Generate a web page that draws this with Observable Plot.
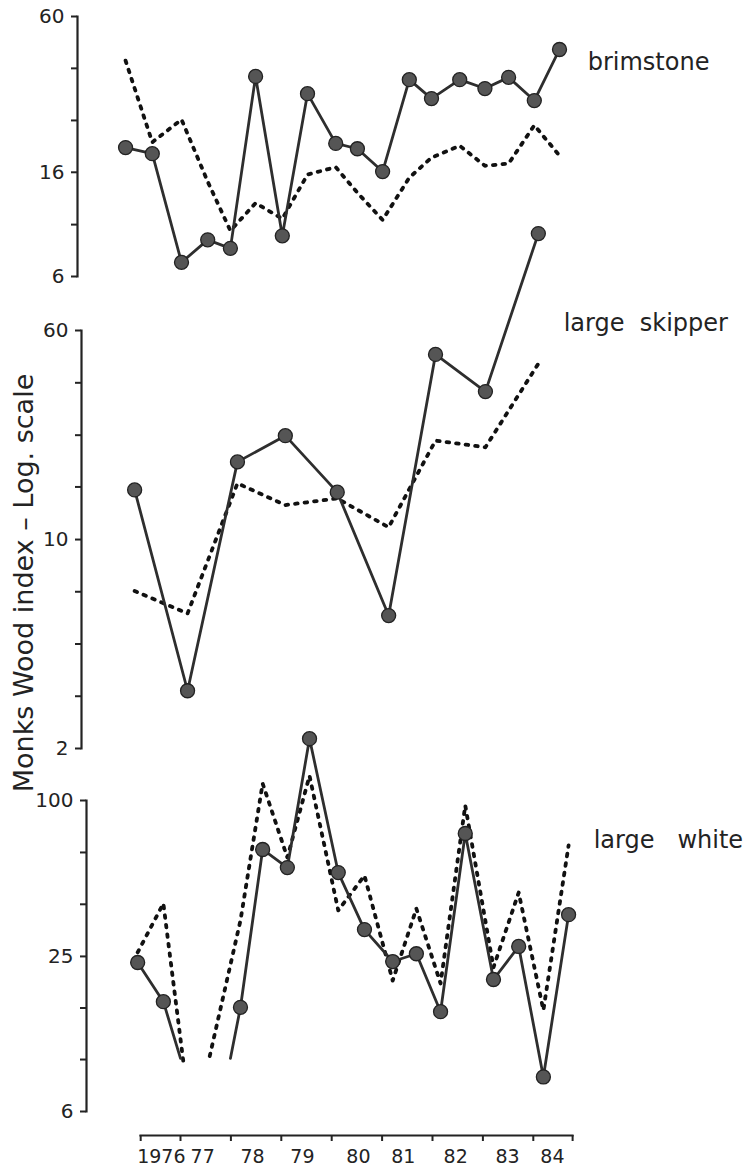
<!DOCTYPE html>
<html>
<head>
<meta charset="utf-8">
<script src="https://cdn.jsdelivr.net/npm/d3@7"></script>
<script src="https://cdn.jsdelivr.net/npm/@observablehq/plot@0.6"></script>
<style>
  html, body { margin: 0; padding: 0; background: #fff; }
  #chart { position: relative; width: 755px; height: 1170px; }
  #chart svg { position: absolute; left: 0; top: 0; overflow: visible; }
</style>
</head>
<body>
<div id="chart"></div>
<script>
// ---------------- data ----------------
// brimstone: two points per year (spring / summer)
const brimTimes  = [1975.91, 1976.44, 1977.02, 1977.54, 1977.99, 1978.49, 1979.02, 1979.52, 1980.08,
                    1980.51, 1981.01, 1981.54, 1981.98, 1982.54, 1983.04, 1983.51, 1984.02, 1984.52];
const brimSolid  = [18.8, 17.8, 6.8, 8.3, 7.7, 35.3, 8.6, 30.3, 19.5, 18.6, 15.2, 34.3, 29.0, 34.3, 31.7, 35.0, 28.5, 44.8];
const brimDashed = [40.6, 19.7, 24.1, 13.9, 9.0, 11.5, 10.0, 14.8, 15.8, 12.6, 9.9, 14.4, 17.2, 19.1, 16.0, 16.3, 22.9, 17.5];
const brimTicks  = [6, 9.5, 15.1, 23.9, 37.9, 60];
const brimTickLabels = ["6", "", "16", "", "", "60"];

// large skipper: one point per year
const skipTimes  = [1976.09, 1977.14, 1978.13, 1979.08, 1980.11, 1981.13, 1982.06, 1983.05, 1984.10];
const skipSolid  = [16.4, 3.2, 20.6, 25.5, 16.1, 5.9, 49.4, 36.5, 132];
const skipDashed = [7.2, 6.0, 17.3, 14.5, 15.3, 12.1, 24.5, 23.2, 45.8];
const skipTicks  = [2, 3.06, 4.68, 7.16, 10.95, 16.8, 25.6, 39.2, 60];
const skipTickLabels = ["2", "", "", "", "10", "", "", "", "60"];

// large white: two broods per year, 1977 missing
const whiteTimes  = [1976.15, 1976.66, 1978.19, 1978.63, 1979.12, 1979.56, 1980.13, 1980.65,
                     1981.21, 1981.68, 1982.16, 1982.65, 1983.21, 1983.71, 1984.20, 1984.70];
const whiteSolid  = [23.1, 16.2, 15.4, 64.2, 54.5, 175, 52.1, 31.1, 23.3, 25.0, 14.8, 74.2, 19.8, 26.7, 8.2, 35.6];
const whiteDashed = [25.3, 39.4, 33.8, 116.6, 59.7, 125, 37.0, 50.7, 19.6, 37.6, 19.1, 95.6, 22.1, 43.5, 15.0, 66.6];
// line stubs running into the missing 1977 values
const whiteSolidStubT  = [1977.00, 1977.99];
const whiteSolidStubV  = [9.7, 9.7];
const whiteDashedStubT = [1977.06, 1977.58];
const whiteDashedStubV = [9.3, 9.9];
const whiteTicks = [6, 9.6, 15.3, 24.4, 39.1, 62.5, 100];
const whiteTickLabels = ["6", "", "", "25", "", "", "100"];

// x axis
const yearLabels   = ["1976", "77", "78", "79", "80", "81", "82", "83", "84"];
const yearLabelPos = [1976.62, 1977.44, 1978.43, 1979.42, 1980.53, 1981.42, 1982.46, 1983.49, 1984.38];
const yearTicks    = [1976.21, 1977, 1978, 1979, 1980, 1981, 1982, 1983, 1984, 1984.78];
const axisTitle = "Monks Wood index \u2013 Log. scale";

// ---------------- layout ----------------
const W = 755, H = 1170;
const FONT = "DejaVu Sans";
const INK = "#232323";
const X = {domain: [1976, 1985], range: [129.6, 583.2], axis: null};
const frameRight = 583.2;

function rows(ts, vs) { return ts.map((t, i) => ({t, v: vs[i]})); }
function withGap(ts, vs, stubT, stubV) {
  const pts = rows(ts, vs);
  return [
    ...pts.filter(d => d.t < stubT[0]),
    {t: stubT[0], v: stubV[0]},
    {t: (stubT[0] + stubT[1]) / 2, v: NaN},
    {t: stubT[1], v: stubV[1]},
    ...pts.filter(d => d.t > stubT[1])
  ];
}

function panel(o) {
  const labelOf = d => o.tickLabels[o.ticks.indexOf(d)] ?? "";
  return Plot.plot({
    width: W, height: H,
    marginTop: o.top, marginBottom: H - o.bottom,
    marginLeft: o.axisPx, marginRight: W - frameRight,
    x: X,
    y: {type: "log", domain: o.domain, range: [o.bottom, o.top], axis: null},
    style: {fontFamily: FONT, color: INK, background: "transparent", overflow: "visible"},
    marks: [
      Plot.frame({anchor: "left", stroke: INK, strokeWidth: 2.2}),
      Plot.axisY({ticks: o.ticks, tickFormat: labelOf, tickSize: 6, tickPadding: 7,
                  strokeWidth: 2, fontSize: 20, label: null}),
      Plot.line(o.dashedLine, {x: "t", y: "v", stroke: "#111", strokeWidth: 3.8,
                strokeDasharray: "2.6 7", strokeLinecap: "round"}),
      Plot.line(o.solidLine, {x: "t", y: "v", stroke: "#2e2e2e", strokeWidth: 2.8}),
      Plot.dot(o.dots, {x: "t", y: "v", r: 7, fill: "#555", stroke: "#222", strokeWidth: 1.3}),
      Plot.text([o.name], {frameAnchor: "top-right", textAnchor: "start", lineAnchor: "middle",
                dx: o.nameDx, dy: o.nameDy, fontSize: 24, fill: INK}),
      ...(o.extra || [])
    ]
  });
}

const brim = panel({
  top: 16, bottom: 276, axisPx: 77, domain: [6, 60],
  ticks: brimTicks, tickLabels: brimTickLabels,
  solidLine: rows(brimTimes, brimSolid), dashedLine: rows(brimTimes, brimDashed),
  dots: rows(brimTimes, brimSolid),
  name: "brimstone", nameDx: 4, nameDy: 46
});

const skip = panel({
  top: 330, bottom: 748, axisPx: 81, domain: [2, 60],
  ticks: skipTicks, tickLabels: skipTickLabels,
  solidLine: rows(skipTimes, skipSolid), dashedLine: rows(skipTimes, skipDashed),
  dots: rows(skipTimes, skipSolid),
  name: "large  skipper", nameDx: -20, nameDy: -7,
  extra: [
    Plot.text([axisTitle], {frameAnchor: "left", textAnchor: "middle", lineAnchor: "middle",
              rotate: -90, dx: -57.5, dy: 43.5, fontSize: 27, fill: INK})
  ]
});

const white = panel({
  top: 800, bottom: 1111, axisPx: 86, domain: [6, 100],
  ticks: whiteTicks, tickLabels: whiteTickLabels,
  solidLine: withGap(whiteTimes, whiteSolid, whiteSolidStubT, whiteSolidStubV),
  dashedLine: withGap(whiteTimes, whiteDashed, whiteDashedStubT, whiteDashedStubV),
  dots: rows(whiteTimes, whiteSolid),
  name: "large   white", nameDx: 10, nameDy: 40
});

const xAxis = Plot.plot({
  width: W, height: H,
  marginTop: 0, marginBottom: H - 1135, marginLeft: 140, marginRight: W - 572,
  x: X,
  y: {domain: [0, 1], axis: null},
  style: {fontFamily: FONT, color: INK, background: "transparent", overflow: "visible"},
  marks: [
    Plot.frame({anchor: "bottom", stroke: INK, strokeWidth: 2.2}),
    Plot.axisX({ticks: yearTicks, tickSize: 6, strokeWidth: 2, tickFormat: () => "", label: null}),
    Plot.text(rows(yearLabelPos, yearLabels), {x: "t", text: "v", frameAnchor: "bottom",
              lineAnchor: "middle", dy: 21, fontSize: 19, fill: INK})
  ]
});

const el = document.getElementById("chart");
el.append(xAxis, white, skip, brim);
</script>
</body>
</html>
